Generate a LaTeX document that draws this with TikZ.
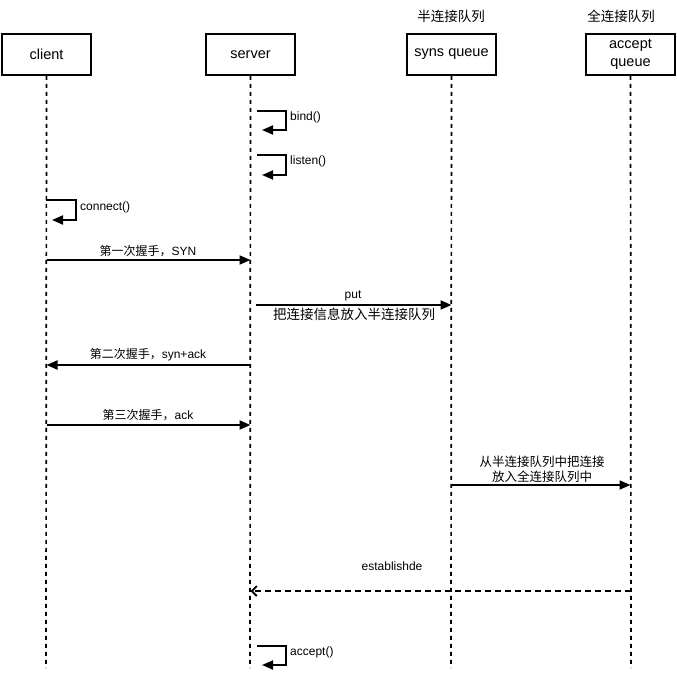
\documentclass[tikz,border=0pt]{standalone}
\usepackage{fontspec}
\setmainfont{Liberation Sans}
\newfontfamily\cjk{Noto Sans CJK SC}
\usetikzlibrary{arrows.meta}
\begin{document}
\begin{tikzpicture}[x=1pt,y=-1pt,
  actor/.style={draw,line width=1.8pt,minimum width=89pt,minimum height=41pt,inner sep=1pt,align=center,font=\fontsize{14.5}{18}\selectfont},
  life/.style={line width=1.7pt,dash pattern=on 4pt off 4pt},
  msg/.style={line width=1.8pt,-{Triangle[length=11pt,width=9pt]}},
  ret/.style={line width=1.7pt,dash pattern=on 6pt off 4pt,-{Straight Barb[length=5pt,width=10pt,line width=1.8pt]}},
  lbl/.style={font=\fontsize{12}{14}\selectfont,inner sep=0pt},
  big/.style={font=\cjk\fontsize{13.5}{15}\selectfont,inner sep=0pt,align=center}]
\useasboundingbox (0,0) rectangle (677,675);
% actors
\node[actor] (client) at (46.5,54.5) {client};
\node[actor] (server) at (250.5,54.5) {server};
\node[actor] (syns) at (451.5,54.5) {syns queue};
\node[actor] (accq) at (630.5,54.5) {accept\\queue};
\node[big,font=\cjk\fontsize{13.5}{15}\selectfont] (t1) at (451,16) {半连接队列};
\node[big,font=\cjk\fontsize{13.5}{15}\selectfont] (t2) at (621,16) {全连接队列};
% lifeline ends
\coordinate (ce) at (46,668);
\coordinate (se) at (250,668);
\coordinate (qe) at (451,668);
\coordinate (ae) at (631,668);
\draw[life] (client.south) -- (ce);
\draw[life] (server.south) -- (se);
\draw[life] (syns.south) -- (qe);
\draw[life] (accq.south) -- (ae);
% self loops
\coordinate (b1) at (257,111); \coordinate (b2) at (262,130);
\draw[msg] (b1) -- (286,111) -- (286,130) -- (b2);
\node[lbl,anchor=west] (bl) at (290,117) {bind()};
\coordinate (l1) at (257,155); \coordinate (l2) at (262,175);
\draw[msg] (l1) -- (286,155) -- (286,175) -- (l2);
\node[lbl,anchor=west] (ll) at (290,161) {listen()};
\coordinate (k1) at (46,200); \coordinate (k2) at (52,220);
\draw[msg] (k1) -- (76,200) -- (76,220) -- (k2);
\node[lbl,anchor=west] (kl) at (80,207) {connect()};
\coordinate (a1) at (257,646); \coordinate (a2) at (262,665);
\draw[msg] (a1) -- (286,646) -- (286,665) -- (a2);
\node[lbl,anchor=west] (al) at (290,652) {accept()};
% messages
\draw[msg] (client.south |- 0,260) -- (server.south |- 0,260);
\node[lbl] (m1) at (148,251) {{\cjk 第一次握手，}SYN};
\coordinate (p1) at (256,305);
\draw[msg] (p1) -- (syns.south |- 0,305);
\node[lbl] (m2) at (353,296) {put};
\node[big] (m2b) at (354,314) {把连接信息放入半连接队列};
\draw[msg] (server.south |- 0,365) -- (client.south |- 0,365);
\node[lbl] (m3) at (148,355) {{\cjk 第二次握手，}syn+ack};
\draw[msg] (client.south |- 0,425) -- (server.south |- 0,425);
\node[lbl] (m4) at (148,415) {{\cjk 第三次握手，}ack};
\draw[msg] (syns.south |- 0,485) -- (accq.south |- 0,485);
\node[big,font=\cjk\fontsize{12.5}{15}\selectfont] (m5) at (542,469) {从半连接队列中把连接\\放入全连接队列中};
\draw[ret] (accq.south |- 0,591) -- (server.south |- 0,591);
\node[lbl] (m6) at (392,566) {establishde};
\end{tikzpicture}
\end{document}
